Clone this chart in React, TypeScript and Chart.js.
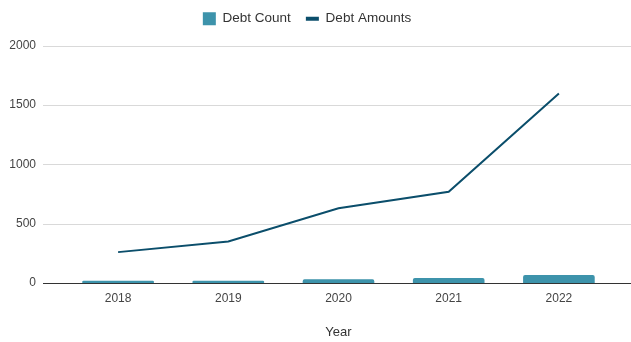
import React, { useEffect, useRef } from "react";
import { Chart, registerables } from "chart.js";

Chart.register(...registerables);

const years = ["2018", "2019", "2020", "2021", "2022"];
const debtCount = [20, 20, 31, 42, 68];
const debtAmounts = [260, 350, 630, 768, 1595];
const yTicks = [0, 500, 1000, 1500, 2000];

const BAR_COLOR = "#3d93ab";
const LINE_COLOR = "#0b4e6b";
const TEXT_COLOR = "#444444";
const FONT = "'Liberation Sans', Arial, sans-serif";

const gridPlugin = {
  id: "fullGrid",
  afterInit(chart: any) {
    const legend = chart.legend;
    if (legend && !legend.__patched) {
      const orig = legend.fit;
      legend.fit = function () {
        orig.call(this);
        this.height += 10;
      };
      legend.__patched = true;
    }
  },
  beforeDatasetsDraw(chart: any) {
    const y = chart.scales.y;
    const ctx = chart.ctx;
    ctx.save();
    yTicks.forEach((v) => {
      const py = Math.round(y.getPixelForValue(v)) + 0.5;
      ctx.beginPath();
      ctx.strokeStyle = v === 0 ? "#333333" : "#d9d9d9";
      ctx.lineWidth = 1;
      ctx.moveTo(43, py);
      ctx.lineTo(chart.width, py);
      ctx.stroke();
    });
    ctx.restore();
  },
};

export default function App() {
  const ref = useRef<HTMLCanvasElement>(null);
  useEffect(() => {
    if (!ref.current) return;
    const chart = new Chart(ref.current, {
      data: {
        labels: years,
        datasets: [
          {
            type: "bar",
            label: "Debt Count",
            data: debtCount,
            backgroundColor: BAR_COLOR,
            borderRadius: { topLeft: 2, topRight: 2, bottomLeft: 0, bottomRight: 0 },
            borderSkipped: "bottom",
            barPercentage: 0.65,
            categoryPercentage: 1,
            order: 1,
            pointStyle: "rect",
          },
          {
            type: "line",
            label: "Debt Amounts",
            data: debtAmounts,
            borderColor: LINE_COLOR,
            backgroundColor: LINE_COLOR,
            borderWidth: 2,
            pointRadius: 0,
            tension: 0,
            order: 0,
            pointStyle: "line",
          },
        ],
      } as any,
      options: {
        animation: false,
        responsive: true,
        maintainAspectRatio: false,
        layout: { padding: { top: -3, right: 17, bottom: 0, left: 0 } },
        plugins: {
          legend: {
            position: "top",
            labels: {
              usePointStyle: true,
              pointStyleWidth: 13,
              boxWidth: 13,
              boxHeight: 13,
              padding: 15,
              color: "#333333",
              font: { family: FONT, size: 13.5 },
              sort: (a: any, b: any) => a.datasetIndex - b.datasetIndex,
              generateLabels(chart: any) {
                const items = Chart.defaults.plugins.legend.labels.generateLabels(chart);
                return items.map((it: any) => {
                  if (it.datasetIndex === 0) {
                    return { ...it, pointStyle: "rect", fillStyle: BAR_COLOR, strokeStyle: BAR_COLOR, lineWidth: 0 };
                  }
                  return { ...it, pointStyle: "line", strokeStyle: LINE_COLOR, fillStyle: LINE_COLOR, lineWidth: 4 };
                });
              },
            },
          },
          tooltip: { enabled: false },
        },
        scales: {
          x: {
            grid: { display: false },
            border: { display: false },
            ticks: { color: TEXT_COLOR, font: { family: FONT, size: 12 }, padding: 0 },
            title: {
              display: true,
              text: "Year",
              color: "#333333",
              font: { family: FONT, size: 13 },
              padding: { top: 4, bottom: 2 },
            },
            afterFit(scale: any) {
              scale.height = 59;
            },
          },
          y: {
            min: 0,
            max: 2000,
            grid: { display: false },
            border: { display: false },
            afterBuildTicks(scale: any) {
              scale.ticks = yTicks.map((v) => ({ value: v }));
            },
            ticks: {
              color: TEXT_COLOR,
              font: { family: FONT, size: 12 },
              padding: 19,
              callback: (v: any) => String(v),
            },
            afterFit(scale: any) {
              scale.width = 63;
            },
          },
        },
      } as any,
      plugins: [gridPlugin],
    });
    return () => chart.destroy();
  }, []);
  return (
    <div style={{ position: "fixed", left: 0, top: 0, width: 631, height: 342, background: "#fff" }}>
      <canvas ref={ref} />
    </div>
  );
}
